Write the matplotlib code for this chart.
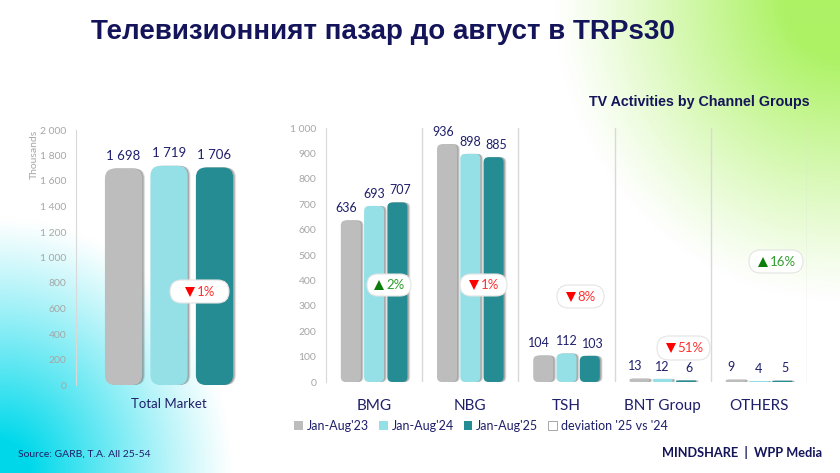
import numpy as np
import matplotlib
matplotlib.use("Agg")
import matplotlib.pyplot as plt
from matplotlib.patches import FancyBboxPatch, Patch

# 資料
series_names = ["Jan-Aug'23", "Jan-Aug'24", "Jan-Aug'25"]
series_colors = ["#BDBDBD", "#95E0E6", "#248C92"]
total_values = [1698, 1719, 1706]
groups = ["BMG", "NBG", "TSH", "BNT Group", "OTHERS"]
values_23 = [636, 936, 104, 13, 9]
values_24 = [693, 898, 112, 12, 4]
values_25 = [707, 885, 103, 6, 5]
deviation_labels = ["2%", "1%", "8%", "51%", "16%"]
deviation_up = [True, False, False, False, True]
total_deviation = "1%"
navy = "#1F1F6B"
base_font = ["Lato", "Noto Sans", "DejaVu Sans"]
plt.rcParams["font.family"] = base_font

W, H = 840, 473
fig = plt.figure(figsize=(W / 100, H / 100), dpi=100)

def px_axes(x0, y_top, x1, y_bottom):
    return fig.add_axes([x0 / W, 1 - y_bottom / H, (x1 - x0) / W, (y_bottom - y_top) / H])

# 背景漸層
bg = px_axes(0, 0, W, H)
xx, yy = np.meshgrid(np.arange(W), np.arange(H))
cyan = np.clip(1.15 * (1 - np.sqrt((xx / 232.0) ** 2 + ((H - yy) / 255.0) ** 2)), 0, 1) ** 1.1
green = np.clip(1.25 * (1 - np.sqrt(((W - xx) / 285.0) ** 2 + (yy / 300.0) ** 2)), 0, 1) ** 1.1
img = np.ones((H, W, 3))
for c, (cy, gr) in enumerate(zip((0.0, 0.85, 0.92), (0.68, 0.95, 0.40))):
    img[:, :, c] = img[:, :, c] * (1 - cyan) + cy * cyan
    img[:, :, c] = img[:, :, c] * (1 - green) + gr * green
bg.imshow(img, aspect="auto", extent=(0, W, H, 0))
bg.axis("off")

def rounded_bars(ax, x, values, width, color, radius_px, aspect):
    # 先用 bar 取得高度，再換成圓角
    xunit = (ax.get_xlim()[1] - ax.get_xlim()[0]) / (ax.get_window_extent().width)
    bars = ax.bar(x, values, width, color="none")
    for rect in bars:
        bx, by = rect.get_x(), rect.get_y()
        w, h = rect.get_width(), rect.get_height()
        r = min(radius_px * xunit, h / aspect * 0.5)
        for off, alpha in ((3.0, 0.12), (2.2, 0.2), (1.4, 0.3)):
            ax.add_patch(FancyBboxPatch((bx + off * xunit, by), w, h, boxstyle=f"round,pad=0,rounding_size={r}",
                                        mutation_aspect=aspect, fc="#555555", ec="none", alpha=alpha, zorder=2, clip_on=False))
        ax.add_patch(FancyBboxPatch((bx, by), w, h, boxstyle=f"round,pad=0,rounding_size={r}",
                                    mutation_aspect=aspect, fc=color, ec="none", zorder=3, clip_on=False))

def style_axes(ax, ymax, step):
    ax.patch.set_alpha(0)
    ax.set_ylim(0, ymax)
    ax.set_yticks(np.arange(0, ymax + 1, step))
    ax.yaxis.set_major_formatter(lambda v, p: f"{int(v):,}".replace(",", " "))
    ax.tick_params(axis="y", length=0, labelsize=7.5, labelcolor="#A6A6A6", pad=7)
    ax.tick_params(axis="x", length=0, labelcolor=navy)
    for s in ("top", "right", "bottom"):
        ax.spines[s].set_visible(False)
    ax.spines["left"].set_color("#D9D9D9")

# 左圖 Total Market
ax1 = px_axes(76, 130, 262, 385)
ax1.set_xlim(-0.5, 0.5)
style_axes(ax1, 2000, 200)
aspect1 = (2000 / 255) / (1 / 186)
for i, v in enumerate(total_values):
    xpos = (i - 1) * 0.2445
    rounded_bars(ax1, [xpos], [v], 0.2, series_colors[i], 10, aspect1)
    ax1.annotate(f"{v:,}".replace(",", " "), (xpos, v), xytext=(0, 5), textcoords="offset points",
                 ha="center", va="bottom", fontsize=9.5, color=navy, zorder=6)
ax1.set_xticks([0])
ax1.set_xticklabels(["Total Market"], fontsize=9.5)
ax1.tick_params(axis="x", pad=9)
ax1.set_ylabel("Thousands", loc="top", fontsize=7.5, color="#A6A6A6", labelpad=1)

# 右圖 channel groups
ax2 = px_axes(326, 128, 807, 382)
ax2.set_xlim(-0.5, 4.5)
style_axes(ax2, 1000, 100)
aspect2 = (1000 / 254) / (5 / 481)
x = np.arange(len(groups))
label_shift = [-3, 0, 2]
for i, vals in enumerate((values_23, values_24, values_25)):
    xpos = x + (i - 1) * 0.242
    rounded_bars(ax2, xpos, vals, 0.208, series_colors[i], 5, aspect2)
    for xp, v in zip(xpos, vals):
        ax2.annotate(str(v), (xp, v), xytext=(label_shift[i], 4.5), textcoords="offset points",
                     ha="center", va="bottom", fontsize=9, color=navy, zorder=6)
ax2.set_xticks(x)
ax2.set_xticklabels(groups, fontsize=11)
ax2.tick_params(axis="x", pad=12)
for sep in np.arange(0.5, 5.0, 1):
    ax2.axvline(sep, color="#D9D9D9", lw=1, zorder=1)

# 覆蓋層：標題、偏差標籤、來源
top = px_axes(0, 0, W, H)
top.set_xlim(0, W)
top.set_ylim(H, 0)
top.axis("off")

def pill(x0, x1, y0, y1, text, up):
    h = y1 - y0
    top.add_patch(FancyBboxPatch((x0, y0), x1 - x0, h, boxstyle=f"round,pad=0,rounding_size={h / 2}",
                                 fc="white", ec="#E4E4E4", lw=0.8, zorder=5))
    mid = (y0 + y1) / 2
    cx = (x0 + x1) / 2
    mark_color = "#0A7D0A" if up else "#FF0000"
    text_color = "#2E9E2E" if up else "#FF3030"
    top.plot([cx - 3 * len(text) - 4], [mid], marker="^" if up else "v", ms=7.5, color=mark_color, mew=0, zorder=6)
    top.text(cx - 3 * len(text) + 3, mid, text, ha="left", va="center", fontsize=9.5, color=text_color, zorder=6)

pill(170, 229, 280, 303, total_deviation, False)
pill_boxes = [(367, 411, 274, 296), (460, 507, 274, 296), (557, 604, 285, 308), (657, 710, 336, 360), (749, 803, 250, 273)]
for box, txt, up in zip(pill_boxes, deviation_labels, deviation_up):
    pill(*box, txt, up)

head_font = ["Liberation Sans", "DejaVu Sans"]
top.text(383, 32, "Телевизионният пазар до август в TRPs30", ha="center", va="center", fontsize=20,
         fontweight="bold", color="#14145A", family=head_font)
top.text(810, 102, "TV Activities by Channel Groups", ha="right", va="center", fontsize=10.3,
         fontweight="bold", color="#14145A", family=head_font)
top.text(18, 454, "Source: GARB, T.A. All 25-54", ha="left", va="center", fontsize=7.5, color=navy)
top.text(822, 452, "MINDSHARE  |  WPP Media", ha="right", va="center", fontsize=9.2, fontweight="bold", color="#14145A")

handles = [Patch(fc=c, ec="none") for c in series_colors] + [Patch(fc="white", ec="#999999", lw=0.6)]
labels = series_names + ["deviation '25 vs '24"]
fig.legend(handles, labels, ncol=4, frameon=False, fontsize=9, labelcolor=navy, loc="center",
           bbox_to_anchor=(481 / W, 1 - 426 / H), handlelength=0.7, handleheight=0.7, handletextpad=0.3, columnspacing=0.8)

fig.savefig("out.png", dpi=100)
plt.close(fig)
